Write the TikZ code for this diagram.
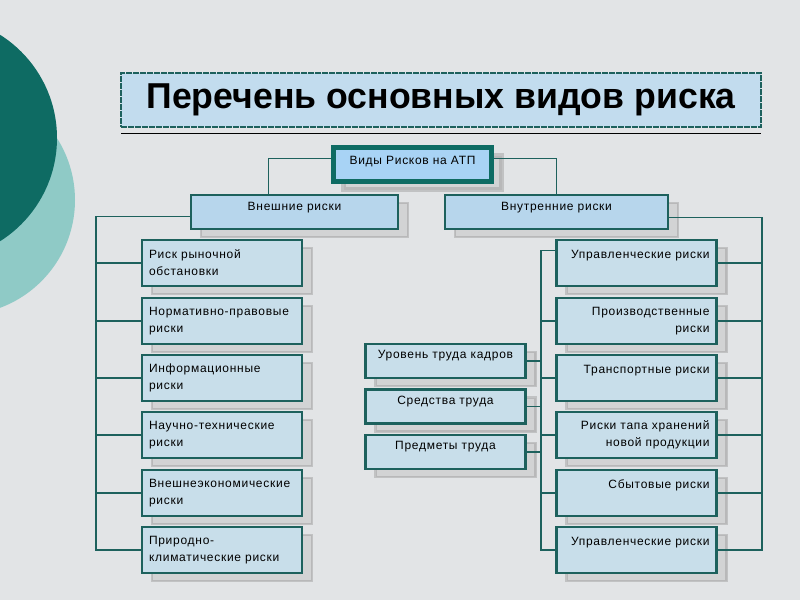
\documentclass[tikz,border=0pt]{standalone}
\usepackage{fontspec}
\setmainfont{Liberation Sans}
\newfontfamily\boxfont[LetterSpace=6]{Liberation Sans}
\usetikzlibrary{shadows,calc}
\pgfdeclarelayer{ghost}
\pgfsetlayers{ghost,main}
\definecolor{tealdark}{HTML}{0E6B63}
\definecolor{tealline}{HTML}{1D615D}
\definecolor{tealbright}{HTML}{8FCAC6}
\definecolor{bgmarble}{HTML}{E2E4E6}
\definecolor{boxfill}{HTML}{C8DEEA}
\definecolor{topfill}{HTML}{A8D3F5}
\definecolor{headfill}{HTML}{B7D6EC}
\definecolor{titlefill}{HTML}{C2DCEE}
\begin{document}
\begin{tikzpicture}[x=1pt,y=-1pt,
  shadowed/.style={drop shadow={shadow xshift=10pt,shadow yshift=-8pt,fill=gray!50,draw=gray!80,opacity=0.45}},
  riskbox/.style={shadowed,draw=tealline,line width=2.2pt,fill=boxfill,minimum width=160pt,minimum height=46pt,
    inner xsep=7pt,inner ysep=0pt,text width=146pt,font=\boxfont\fontsize{12}{17}\selectfont},
  leftbox/.style={riskbox,align=left},
  rightbox/.style={riskbox,align=right},
  midbox/.style={riskbox,minimum height=34pt,align=center,text height=8pt,text depth=13pt},
  headbox/.style={shadowed,draw=tealline,line width=2.2pt,fill=headfill,minimum height=34pt,inner sep=0pt,
    text height=8pt,text depth=11pt,font=\boxfont\fontsize{12}{14}\selectfont},
  topbox/.style={shadowed,draw=tealdark,line width=5pt,fill=topfill,minimum width=158pt,minimum height=34pt,inner sep=0pt,
    text height=8pt,text depth=9pt,font=\boxfont\fontsize{12}{14}\selectfont},
  conn/.style={draw=tealline,line width=1.1pt},
  ghostline/.style={draw=gray!70,line width=0.8pt}
]
\useasboundingbox (0,0) rectangle (800,600);
\fill[bgmarble] (0,0) rectangle (800,600);
\begin{scope}
\clip (0,0) rectangle (800,600);
\fill[tealbright] (-40,200) circle (115);
\fill[tealdark] (-65,138) circle (122);
\end{scope}

% title
\node[draw=tealline,line width=1.5pt,dash pattern=on 6pt off 1pt,fill=titlefill,minimum width=640pt,minimum height=54pt,inner sep=0pt]
  (title) at (441,100) {\scalebox{0.99}[1]{\fontsize{36}{40}\selectfont\bfseries Перечень основных видов риска}};
\draw[black,line width=1pt] (121,133) -- (761,133);

% top
\node[topbox] (top) at (412.5,164.5) {Виды Рисков на АТП};
\node[headbox,minimum width=207pt] (ext) at (294.5,212) {Внешние риски};
\node[headbox,minimum width=223pt] (int) at (556.5,212) {Внутренние риски};

% left column
\node[leftbox] (l1) at (222,263) {Риск рыночной\\обстановки};
\node[leftbox] (l2) at (222,321) {Нормативно-правовые\\риски};
\node[leftbox] (l3) at (222,378) {Информационные\\риски};
\node[leftbox] (l4) at (222,435) {Научно-технические\\риски};
\node[leftbox] (l5) at (222,493) {Внешнеэкономические\\риски};
\node[leftbox] (l6) at (222,550) {Природно-\\климатические риски};

% right column
\node[rightbox] (r1) at (636.5,263) {Управленческие риски\\\mbox{}};
\node[rightbox] (r2) at (636.5,321) {Производственные\\риски};
\node[rightbox] (r3) at (636.5,378) {Транспортные риски\\\mbox{}};
\node[rightbox] (r4) at (636.5,435) {Риски тапа хранений\\новой продукции};
\node[rightbox] (r5) at (636.5,493) {Сбытовые риски\\\mbox{}};
\node[rightbox] (r6) at (636.5,550) {Управленческие риски\\\mbox{}};

% middle
\node[midbox] (m1) at (445.5,361) {Уровень труда кадров};
\node[midbox] (m2) at (445.5,406.5) {Средства труда};
\node[midbox] (m3) at (445.5,452) {Предметы труда};

\coordinate (lbus) at (96,0);
\coordinate (rbus) at (762,0);
\coordinate (mbus) at (541,0);

% ghost connectors
\begin{pgfonlayer}{ghost}
\draw[ghostline] ($(top.west)+(10,8)$) -| ($(ext.north)+(-14,8)$);
\draw[ghostline] ($(top.east)+(10,8)$) -| ($(int.north)+(10,8)$);
\draw[ghostline] ($(ext.west)+(10,8)$) -| ($(lbus |- l6.west)+(8,8)$);
\foreach \n in {l1,l2,l3,l4,l5,l6} \draw[ghostline] ($(lbus |- \n.west)+(8,8)$) -- ($(\n.west)+(10,8)$);
\draw[ghostline] ($(int.east)+(10,8)$) -| ($(rbus |- r6.east)+(10,8)$);
\foreach \n in {r1,r2,r3,r4,r5,r6} \draw[ghostline] ($(rbus |- \n.east)+(10,8)$) -- ($(\n.east)+(10,8)$);
\draw[ghostline] ($(mbus |- r1.north)+(8,16)$) -- ($(mbus |- r6.west)+(8,8)$);
\foreach \n in {r2,r3,r4,r5,r6} \draw[ghostline] ($(mbus |- \n.west)+(8,8)$) -- ($(\n.west)+(10,8)$);
\foreach \n in {m1,m2,m3} \draw[ghostline] ($(\n.east)+(10,8)$) -- ($(mbus |- \n.east)+(8,8)$);
\end{pgfonlayer}

% connectors
\draw[conn] ($(top.north west)!0.35!(top.south west)$) -| ($(ext.north west)!0.377!(ext.north east)$);
\draw[conn] ($(top.north east)!0.35!(top.south east)$) -| (int.north);
\draw[conn] ($(ext.north west)!0.62!(ext.south west)$) -| (lbus |- l6.west) -- (l6.west);
\foreach \n in {l1,l2,l3,l4,l5} \draw[conn] (lbus |- \n.west) -- (\n.west);
\draw[conn] ($(int.north east)!0.65!(int.south east)$) -| (rbus |- r6.east) -- (r6.east);
\foreach \n in {r1,r2,r3,r4,r5} \draw[conn] (rbus |- \n.east) -- (\n.east);
\draw[conn] ($(r1.north west)!0.24!(r1.south west)$) -| (mbus |- r6.west) -- (r6.west);
\foreach \n in {r2,r3,r4,r5} \draw[conn] (mbus |- \n.west) -- (\n.west);
\foreach \n in {m1,m2,m3} \draw[conn] (\n.east) -- (mbus |- \n.east);
\end{tikzpicture}
\end{document}
